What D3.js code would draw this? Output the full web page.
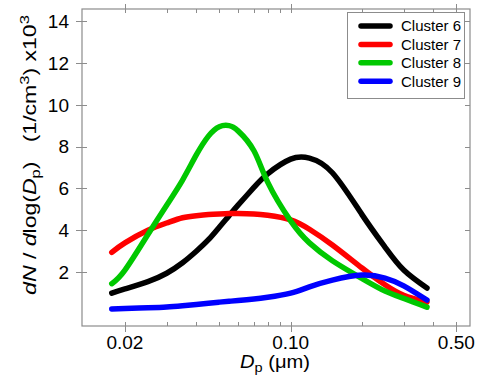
<!DOCTYPE html>
<html>
<head>
<meta charset="utf-8">
<script src="https://cdn.jsdelivr.net/npm/d3@7"></script>
<style>
  body { margin: 0; background: #fff; }
  svg { display: block; font-family: "Liberation Sans", Arial, sans-serif; }
</style>
</head>
<body>
<div id="chart"></div>
<script>
  // particle diameter (um) where the curves were read
  const diameters = [0.0176, 0.02, 0.025, 0.03, 0.035, 0.04, 0.045, 0.05, 0.055, 0.06, 0.07, 0.08, 0.1, 0.12, 0.15, 0.2, 0.25, 0.3, 0.376];

  // dN/dlog(Dp) x10^3 per cluster
  const cluster6 = [1.0, 1.2, 1.55, 1.95, 2.45, 3.0, 3.55, 4.15, 4.7, 5.2, 6.05, 6.7, 7.4, 7.45, 6.75, 4.75, 3.2, 2.1, 1.24];
  const cluster7 = [2.95, 3.4, 4.0, 4.35, 4.6, 4.7, 4.75, 4.78, 4.8, 4.8, 4.78, 4.72, 4.5, 4.05, 3.3, 2.2, 1.4, 0.9, 0.57];
  const cluster8 = [1.45, 2.1, 3.8, 5.2, 6.4, 7.6, 8.5, 8.95, 9.0, 8.75, 7.8, 6.3, 4.45, 3.4, 2.55, 1.7, 1.1, 0.75, 0.33];
  const cluster9 = [0.24, 0.26, 0.3, 0.34, 0.4, 0.46, 0.52, 0.57, 0.61, 0.65, 0.72, 0.8, 1.0, 1.3, 1.62, 1.86, 1.72, 1.35, 0.67];

  const seriesNames = ["Cluster 6", "Cluster 7", "Cluster 8", "Cluster 9"];
  const seriesValues = [cluster6, cluster7, cluster8, cluster9];
  const seriesColors = ["#000000", "#ff0000", "#00c800", "#0000ff"];

  const xTicks = [0.02, 0.10, 0.50];
  const xTickLabels = ["0.02", "0.10", "0.50"];
  const xMinorTicks = [0.03, 0.04, 0.05, 0.06, 0.07, 0.08, 0.09, 0.2, 0.3, 0.4];
  const yTicks = [2, 4, 6, 8, 10, 12, 14];

  const width = 478, height = 383;
  const plot = {left: 82, right: 470, top: 9, bottom: 326};
  const axisGray = "#8c8c8c";

  const svg = d3.select("#chart")
    .append("svg")
      .attr("width", width)
      .attr("height", height);

  const xScale = d3.scaleLog()
    .domain([0.01318, 0.571])
    .range([plot.left, plot.right]);

  const yScale = d3.scaleLinear()
    .domain([-0.57, 14.57])
    .range([plot.bottom, plot.top]);

  // frame
  svg.append("rect")
    .attr("x", plot.left)
    .attr("y", plot.top)
    .attr("width", plot.right - plot.left)
    .attr("height", plot.bottom - plot.top)
    .attr("fill", "none")
    .attr("stroke", axisGray)
    .attr("stroke-width", 1.2);

  const ticks = svg.append("g")
    .attr("stroke", axisGray)
    .attr("stroke-width", 1);

  // bottom / top major ticks cross the frame, minor ticks sit inside
  ticks.selectAll(".xmaj")
    .data(xTicks)
    .join("g")
    .each(function(d) {
      const x = Math.round(xScale(d)) + 0.5;
      d3.select(this).append("line")
        .attr("x1", x).attr("x2", x)
        .attr("y1", plot.bottom - 4).attr("y2", plot.bottom + 6);
      d3.select(this).append("line")
        .attr("x1", x).attr("x2", x)
        .attr("y1", plot.top - 5).attr("y2", plot.top + 4);
    });

  ticks.selectAll(".xmin")
    .data(xMinorTicks)
    .join("g")
    .each(function(d) {
      const x = Math.round(xScale(d)) + 0.5;
      d3.select(this).append("line")
        .attr("x1", x).attr("x2", x)
        .attr("y1", plot.bottom - 4).attr("y2", plot.bottom);
      d3.select(this).append("line")
        .attr("x1", x).attr("x2", x)
        .attr("y1", plot.top).attr("y2", plot.top + 4);
    });

  ticks.selectAll(".ymaj")
    .data(yTicks)
    .join("g")
    .each(function(d) {
      const y = Math.round(yScale(d)) + 0.5;
      d3.select(this).append("line")
        .attr("x1", plot.left - 6).attr("x2", plot.left + 5)
        .attr("y1", y).attr("y2", y);
      d3.select(this).append("line")
        .attr("x1", plot.right - 5).attr("x2", plot.right)
        .attr("y1", y).attr("y2", y);
    });

  // tick labels
  svg.append("g")
    .selectAll("text")
    .data(xTicks)
    .join("text")
      .attr("x", d => xScale(d))
      .attr("y", 349)
      .attr("text-anchor", "middle")
      .style("font-size", "19px")
      .text((d, i) => xTickLabels[i]);

  svg.append("g")
    .selectAll("text")
    .data(yTicks)
    .join("text")
      .attr("x", 69)
      .attr("y", d => yScale(d))
      .attr("dy", "0.36em")
      .attr("text-anchor", "end")
      .style("font-size", "19px")
      .text(d => d);

  // curves
  const line = d3.line()
    .x(d => xScale(d[0]))
    .y(d => yScale(d[1]))
    .curve(d3.curveNatural);

  svg.append("g")
    .selectAll("path")
    .data(seriesValues)
    .join("path")
      .attr("d", vals => line(diameters.map((dp, i) => [dp, vals[i]])))
      .attr("fill", "none")
      .attr("stroke", (d, i) => seriesColors[i])
      .attr("stroke-width", 5.5)
      .attr("stroke-linecap", "round")
      .attr("stroke-linejoin", "round");

  // legend
  const legend = svg.append("g");
  legend.append("rect")
    .attr("x", 347.5)
    .attr("y", 12.5)
    .attr("width", 117)
    .attr("height", 86)
    .attr("fill", "#fff")
    .attr("stroke", axisGray)
    .attr("stroke-width", 1);

  const rows = legend.selectAll(".row")
    .data(seriesNames)
    .join("g")
      .attr("transform", (d, i) => `translate(0, ${26 + i * 18.4})`);

  rows.append("line")
    .attr("x1", 361).attr("x2", 390)
    .attr("y1", 0).attr("y2", 0)
    .attr("stroke", (d, i) => seriesColors[i])
    .attr("stroke-width", 5.5)
    .attr("stroke-linecap", "round");

  rows.append("text")
    .attr("x", 401)
    .attr("dy", "0.36em")
    .style("font-size", "15px")
    .text(d => d);

  // axis titles
  const xTitle = svg.append("text")
    .attr("transform", "translate(275, 368) scale(1.12, 1)")
    .attr("text-anchor", "middle")
    .style("font-size", "18px");
  xTitle.append("tspan").style("font-style", "italic").text("D");
  xTitle.append("tspan").attr("dy", 4).style("font-size", "13px").text("p");
  xTitle.append("tspan").attr("dy", -4).text(" (\u03bcm)");

  const yTitle = svg.append("text")
    .attr("transform", "translate(36, 155) rotate(-90) scale(1.28, 1)")
    .attr("text-anchor", "middle")
    .style("font-size", "18px");
  yTitle.append("tspan").style("font-style", "italic").text("dN");
  yTitle.append("tspan").text(" / ");
  yTitle.append("tspan").style("font-style", "italic").text("d");
  yTitle.append("tspan").text("log(");
  yTitle.append("tspan").style("font-style", "italic").text("D");
  yTitle.append("tspan").attr("dy", 4).style("font-size", "13px").text("p");
  yTitle.append("tspan").attr("dy", -4).text(")\u00a0\u00a0\u00a0(1/cm");
  yTitle.append("tspan").attr("dy", -7).style("font-size", "13px").text("3");
  yTitle.append("tspan").attr("dy", 7).text(") x10");
  yTitle.append("tspan").attr("dy", -7).style("font-size", "13px").text("3");
</script>
</body>
</html>
